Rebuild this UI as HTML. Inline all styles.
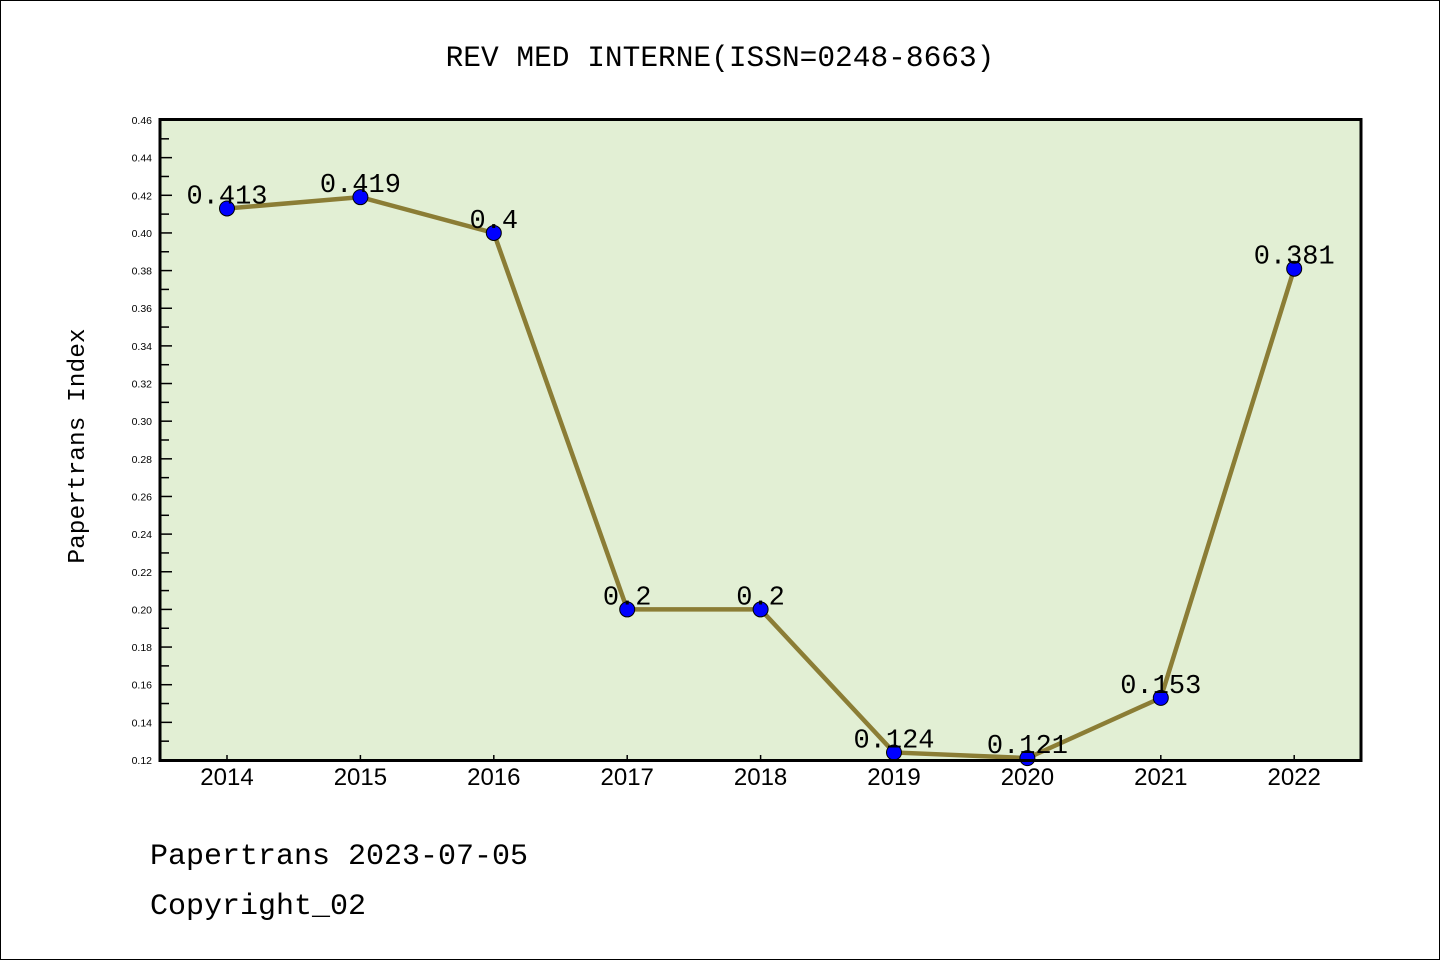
<!DOCTYPE html>
<html><head><meta charset="utf-8"><style>
body{margin:0;background:#fff}
svg{display:block}
.mono{font-family:"Liberation Mono",monospace}
</style></head><body>
<main>
<svg width="1440" height="960">
<rect x="0.5" y="0.5" width="1439" height="959" fill="#fff" stroke="#000"/>
<text x="720" y="66" text-anchor="middle" class="mono" font-size="29.5">REV MED INTERNE(ISSN=0248-8663)</text>
<rect x="160" y="119.5" width="1201" height="641" fill="#e2efd4"/>
<g id="yticks"></g><g id="xticks"></g>
<g id="series"></g>
<rect x="160" y="119.5" width="1201" height="641" fill="none" stroke="#000" stroke-width="3"/>
<text transform="translate(84,446) rotate(-90)" text-anchor="middle" class="mono" font-size="24.5">Papertrans Index</text>
<text x="150" y="864" class="mono" font-size="30">Papertrans 2023-07-05</text>
<text x="150" y="914" class="mono" font-size="30">Copyright_02</text>
</svg>
</main>
<script>
const years=["2014","2015","2016","2017","2018","2019","2020","2021","2022"];
const values=[0.413,0.419,0.4,0.2,0.2,0.124,0.121,0.153,0.381];
const labels=["0.413","0.419","0.4","0.2","0.2","0.124","0.121","0.153","0.381"];
const yTicks=["0.12","0.14","0.16","0.18","0.20","0.22","0.24","0.26","0.28","0.30","0.32","0.34","0.36","0.38","0.40","0.42","0.44","0.46"];
const NS="http://www.w3.org/2000/svg";
const yMin=0.12,yMax=0.46,yTopPx=120,yBotPx=760;
const y=v=>yBotPx-(v-yMin)/(yMax-yMin)*(yBotPx-yTopPx);
const x=i=>227+i*133.4;
function mk(t,a,p){const e=document.createElementNS(NS,t);for(const k in a)e.setAttribute(k,a[k]);p.appendChild(e);return e;}
const yt=document.getElementById('yticks');
yTicks.forEach((t,i)=>{const v=parseFloat(t),yy=y(v);
 const l=mk('line',{x1:160,x2:172,y1:yy,y2:yy,stroke:'#000','stroke-width':1.5},yt);
 
 
 const tx=mk('text',{x:152,y:yy+4,'text-anchor':'end','font-size':10.5,'font-family':'Liberation Sans, sans-serif'},yt);
 tx.textContent=t;
 
 
 if(i<yTicks.length-1){const ym=y(v+0.01);
  const m=mk('line',{x1:160,x2:169,y1:ym,y2:ym,stroke:'#000','stroke-width':1.5},yt);
  
  }
});
const xt=document.getElementById('xticks');
years.forEach((yr,i)=>{
 const l=mk('line',{x1:x(i),x2:x(i),y1:760,y2:755,stroke:'#000','stroke-width':1.5},xt);
 
 
 const tx=mk('text',{x:x(i),y:785,'text-anchor':'middle','font-size':24,'font-family':'Liberation Sans, sans-serif'},xt);
 tx.textContent=yr;
 
 
});
const s=document.getElementById('series');
const pl=mk('polyline',{points:values.map((v,i)=>x(i)+','+y(v)).join(' '),fill:'none',stroke:'#8b7d35','stroke-width':4.5},s);


values.forEach((v,i)=>{
 const c=mk('circle',{cx:x(i),cy:y(v),r:7.5,fill:'#0000ff',stroke:'#000','stroke-width':1},s);
 
 
 const t=mk('text',{x:x(i),y:y(v)-5,'text-anchor':'middle','font-size':27,'font-family':'Liberation Mono, monospace'},s);
 t.textContent=labels[i];
 
 
});
</script>
</body></html>
